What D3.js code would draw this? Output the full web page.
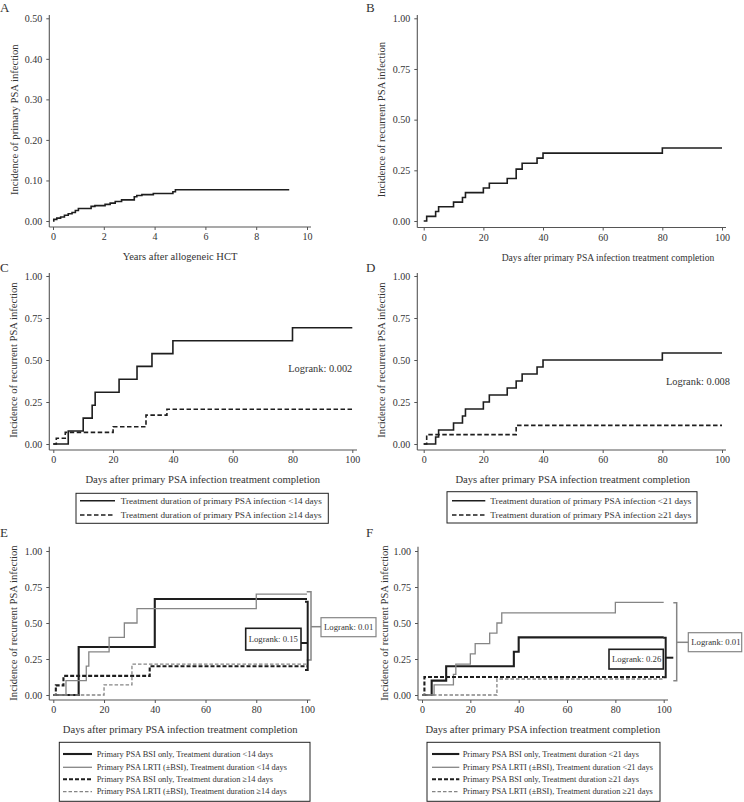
<!DOCTYPE html>
<meta charset="utf-8">
<script src="https://d3js.org/d3.v7.min.js"></script>
<style>
  body { margin: 0; background: #fff; }
  svg text { font-family: "Liberation Serif", "DejaVu Serif", serif; fill: #333; }
</style>
<div id="chart"></div>
<script>

// ---- data ----
// A: primary infection over years
var aYears = [0, 0.03, 0.15, 0.3, 0.45, 0.6, 0.75, 0.88, 1.0, 1.5, 1.65, 2.05, 2.25, 2.45, 2.7, 3.2, 3.3, 3.5, 3.95, 4.72, 4.82, 9.3];
var aInc   = [0, 0.004, 0.007, 0.010, 0.014, 0.018, 0.021, 0.026, 0.031, 0.036, 0.038, 0.041, 0.044, 0.048, 0.052, 0.060, 0.063, 0.065, 0.068, 0.072, 0.077, 0.077];

// B: recurrent, all patients
var bDays = [0, 1, 4, 5, 10, 13, 14, 20, 22, 28, 31, 33, 38, 40, 80, 100];
var bInc  = [0, 0.023, 0.047, 0.070, 0.093, 0.116, 0.140, 0.163, 0.186, 0.210, 0.256, 0.285, 0.310, 0.335, 0.360, 0.360];

// C: by treatment duration, cut at 14 days
var cLt14Days = [0, 5, 10, 13, 14, 22, 28, 33, 40, 80, 100];
var cLt14Inc  = [0, 0.077, 0.154, 0.231, 0.308, 0.385, 0.462, 0.538, 0.615, 0.692, 0.692];
var cGe14Days = [0, 1, 4, 20, 31, 38, 100];
var cGe14Inc  = [0, 0.034, 0.069, 0.103, 0.172, 0.207, 0.207];

// D: by treatment duration, cut at 21 days
var dLt21Days = [0, 4, 5, 10, 13, 14, 20, 22, 28, 31, 33, 38, 40, 80, 100];
var dLt21Inc  = [0, 0.042, 0.083, 0.125, 0.167, 0.208, 0.250, 0.292, 0.333, 0.375, 0.417, 0.458, 0.500, 0.542, 0.542];
var dGe21Days = [0, 1, 31, 100];
var dGe21Inc  = [0, 0.056, 0.111, 0.111];

// E: infection site x duration (14 days)
var eBsiLtDays  = [0, 10, 40, 100];
var eBsiLtInc   = [0, 0.333, 0.667, 0.667];
var eLrtiLtDays = [0, 5, 13, 14, 22, 28, 33, 80, 100];
var eLrtiLtInc  = [0, 0.1, 0.2, 0.3, 0.4, 0.5, 0.6, 0.7, 0.7];
var eBsiGeDays  = [0, 1, 4, 38, 100];
var eBsiGeInc   = [0, 0.067, 0.133, 0.2, 0.2];
var eLrtiGeDays = [0, 20, 31, 100];
var eLrtiGeInc  = [0, 0.071, 0.214, 0.214];

// F: infection site x duration (21 days)
var fBsiLtDays  = [0, 4, 10, 38, 40, 100];
var fBsiLtInc   = [0, 0.1, 0.2, 0.3, 0.4, 0.4];
var fLrtiLtDays = [0, 5, 13, 14, 20, 22, 28, 31, 33, 80, 100];
var fLrtiLtInc  = [0, 0.071, 0.143, 0.214, 0.286, 0.357, 0.429, 0.5, 0.571, 0.643, 0.643];
var fBsiGeDays  = [0, 1, 100];
var fBsiGeInc   = [0, 0.125, 0.125];
var fLrtiGeDays = [0, 31, 100];
var fLrtiGeInc  = [0, 0.111, 0.111];

var yearTicks = [0, 2, 4, 6, 8, 10];
var dayTicks = [0, 20, 40, 60, 80, 100];
var aIncTicks = [0, 0.1, 0.2, 0.3, 0.4, 0.5];
var incTicks = [0, 0.25, 0.5, 0.75, 1];

var legendC = ["Treatment duration of primary PSA infection <14 days",
               "Treatment duration of primary PSA infection \u226514 days"];
var legendD = ["Treatment duration of primary PSA infection <21 days",
               "Treatment duration of primary PSA infection \u226521 days"];
var legendE = ["Primary PSA BSI only, Treatment duration <14 days",
               "Primary PSA LRTI (\u00b1BSI), Treatment duration <14 days",
               "Primary PSA BSI only, Treatment duration \u226514 days",
               "Primary PSA LRTI (\u00b1BSI), Treatment duration \u226514 days"];
var legendF = ["Primary PSA BSI only, Treatment duration <21 days",
               "Primary PSA LRTI (\u00b1BSI), Treatment duration <21 days",
               "Primary PSA BSI only, Treatment duration \u226521 days",
               "Primary PSA LRTI (\u00b1BSI), Treatment duration \u226521 days"];

var DAYS_TITLE = "Days after primary PSA infection treatment completion";
var REC_TITLE = "Incidence of recurrent PSA infection";

// ---- styles for the line kinds ----
var BLACK = "#1e1e1e", GRAY = "#858585", AXIS = "#555";
var styles = {
  solid:     {stroke: BLACK, width: 1.6, dash: null},
  dashed:    {stroke: BLACK, width: 1.6, dash: "4.5,2.5"},
  thickSolid:{stroke: BLACK, width: 2.1, dash: null},
  thinGray:  {stroke: GRAY,  width: 1.3, dash: null},
  thickDash: {stroke: BLACK, width: 2.1, dash: "4,2"},
  grayDash:  {stroke: GRAY,  width: 1.3, dash: "3.5,2"}
};

var svg = d3.select("#chart").append("svg")
    .attr("width", 744)
    .attr("height", 802);

function zip(a, b) { return a.map(function(v, i) { return [v, b[i]]; }); }

function drawPanel(p) {
  var g = svg.append("g");
  var x = d3.scaleLinear().domain(p.xDomain).range(p.xRange);
  var y = d3.scaleLinear().domain(p.yDomain).range(p.yRange);

  // axis lines (they run a bit past the ticks, stata style)
  g.append("line")
    .attr("x1", p.axisX).attr("x2", p.axisX)
    .attr("y1", p.axisTop).attr("y2", p.axisY)
    .attr("stroke", AXIS).attr("stroke-width", 1.1);
  g.append("line")
    .attr("x1", p.axisX).attr("x2", p.axisRight)
    .attr("y1", p.axisY).attr("y2", p.axisY)
    .attr("stroke", AXIS).attr("stroke-width", 1.1);

  var ya = g.append("g")
    .attr("transform", "translate(" + p.axisX + ",0)")
    .call(d3.axisLeft(y).tickValues(p.yTicks).tickFormat(d3.format(".2f")).tickSize(3).tickPadding(4));
  ya.select(".domain").remove();
  var xa = g.append("g")
    .attr("transform", "translate(0," + p.axisY + ")")
    .call(d3.axisBottom(x).tickValues(p.xTicks).tickFormat(d3.format("d")).tickSize(3).tickPadding(3));
  xa.select(".domain").remove();
  g.selectAll(".tick line").attr("stroke", AXIS);
  g.selectAll(".tick text").attr("font-size", "10px");

  // titles
  g.append("text")
    .attr("x", p.xTitleX).attr("y", p.axisY + 33)
    .attr("text-anchor", "middle")
    .attr("font-size", p.xTitleSize + "px")
    .text(p.xTitle);
  g.append("text")
    .attr("transform", "translate(" + p.yTitleX + "," + ((p.yRange[0] + p.yRange[1]) / 2) + ") rotate(-90)")
    .attr("text-anchor", "middle")
    .attr("dy", "0.35em")
    .attr("font-size", "10.6px")
    .text(p.yTitle);
  g.append("text")
    .attr("x", p.labelX).attr("y", p.labelY)
    .attr("font-size", "13px")
    .text(p.label);

  var line = d3.line()
    .x(function(d) { return x(d[0]); })
    .y(function(d) { return y(d[1]); })
    .curve(d3.curveStepAfter);

  p.series.forEach(function(s) {
    var st = styles[s.style];
    g.append("path")
      .datum(zip(s.t, s.v))
      .attr("d", line)
      .attr("fill", "none")
      .attr("stroke", st.stroke)
      .attr("stroke-width", st.width)
      .attr("stroke-dasharray", st.dash);
  });

  if (p.legend) {
    var L = p.legend;
    g.append("rect")
      .attr("x", L.x0).attr("y", L.y0)
      .attr("width", L.x1 - L.x0).attr("height", L.y1 - L.y0)
      .attr("fill", "none").attr("stroke", "#222").attr("stroke-width", 1);
    L.labels.forEach(function(txt, i) {
      var st = styles[p.series[i].style];
      var yy = L.rows[i];
      g.append("line")
        .attr("x1", L.sx0).attr("x2", L.sx1)
        .attr("y1", yy).attr("y2", yy)
        .attr("stroke", st.stroke).attr("stroke-width", st.width)
        .attr("stroke-dasharray", st.dash);
      g.append("text")
        .attr("x", L.tx).attr("y", yy).attr("dy", "0.33em")
        .attr("font-size", L.size + "px")
        .text(txt);
    });
  }
  return g;
}

// A
drawPanel({
  label: "A", labelX: 0, labelY: 12,
  xDomain: [0, 10], xRange: [53, 307], yDomain: [0, 0.5], yRange: [221, 18.3],
  axisX: 49.3, axisTop: 15, axisY: 227, axisRight: 311,
  xTicks: yearTicks, yTicks: aIncTicks,
  xTitle: "Years after allogeneic HCT", xTitleX: 180, xTitleSize: 10.5,
  yTitle: "Incidence of primary PSA infection", yTitleX: 14,
  series: [{t: aYears, v: aInc, style: "solid"}]
});

// B
drawPanel({
  label: "B", labelX: 366, labelY: 12,
  xDomain: [0, 100], xRange: [423.7, 722], yDomain: [0, 1], yRange: [221, 18.3],
  axisX: 417.3, axisTop: 15, axisY: 227.5, axisRight: 726,
  xTicks: dayTicks, yTicks: incTicks,
  xTitle: DAYS_TITLE, xTitleX: 608, xTitleSize: 9.6,
  yTitle: REC_TITLE, yTitleX: 381,
  series: [{t: bDays, v: bInc, style: "solid"}]
});

// C
var gC = drawPanel({
  label: "C", labelX: 0, labelY: 272,
  xDomain: [0, 100], xRange: [53.3, 352.3], yDomain: [0, 1], yRange: [444, 276],
  axisX: 49.3, axisTop: 273, axisY: 450, axisRight: 357,
  xTicks: dayTicks, yTicks: incTicks,
  xTitle: DAYS_TITLE, xTitleX: 202.8, xTitleSize: 10.6,
  yTitle: REC_TITLE, yTitleX: 13,
  series: [{t: cLt14Days, v: cLt14Inc, style: "solid"},
           {t: cGe14Days, v: cGe14Inc, style: "dashed"}],
  legend: {x0: 76, x1: 328.3, y0: 493.3, y1: 523.3, rows: [500.7, 515],
           sx0: 80, sx1: 115, tx: 120.7, size: 9.2, labels: legendC}
});
gC.append("text").attr("x", 352.3).attr("y", 368).attr("dy", "0.35em")
  .attr("text-anchor", "end").attr("font-size", "10.4px").text("Logrank: 0.002");

// D
var gD = drawPanel({
  label: "D", labelX: 366, labelY: 272,
  xDomain: [0, 100], xRange: [423.7, 722], yDomain: [0, 1], yRange: [444, 276],
  axisX: 417.3, axisTop: 273, axisY: 450, axisRight: 726,
  xTicks: dayTicks, yTicks: incTicks,
  xTitle: DAYS_TITLE, xTitleX: 572.8, xTitleSize: 10.6,
  yTitle: REC_TITLE, yTitleX: 381,
  series: [{t: dLt21Days, v: dLt21Inc, style: "solid"},
           {t: dGe21Days, v: dGe21Inc, style: "dashed"}],
  legend: {x0: 447, x1: 697, y0: 491.7, y1: 523, rows: [500.7, 515],
           sx0: 452, sx1: 485.3, tx: 490.3, size: 9.2, labels: legendD}
});
gD.append("text").attr("x", 730).attr("y", 381.7).attr("dy", "0.35em")
  .attr("text-anchor", "end").attr("font-size", "10.4px").text("Logrank: 0.008");

// E
var gE = drawPanel({
  label: "E", labelX: 0, labelY: 537,
  xDomain: [0, 100], xRange: [53.3, 307], yDomain: [0, 1], yRange: [695, 551],
  axisX: 49.3, axisTop: 546.7, axisY: 700, axisRight: 310.5,
  xTicks: dayTicks, yTicks: incTicks,
  xTitle: DAYS_TITLE, xTitleX: 180.2, xTitleSize: 10.6,
  yTitle: REC_TITLE, yTitleX: 13.3,
  series: [{t: eBsiLtDays, v: eBsiLtInc, style: "thickSolid"},
           {t: eLrtiLtDays, v: eLrtiLtInc, style: "thinGray"},
           {t: eBsiGeDays, v: eBsiGeInc, style: "thickDash"},
           {t: eLrtiGeDays, v: eLrtiGeInc, style: "grayDash"}],
  legend: {x0: 59.3, x1: 310, y0: 742.3, y1: 801.3, rows: [754, 767.3, 779.3, 791.7],
           sx0: 63, sx1: 92, tx: 96.7, size: 8.4, labels: legendE}
});

// F
var gF = drawPanel({
  label: "F", labelX: 366, labelY: 537,
  xDomain: [0, 100], xRange: [422, 663.7], yDomain: [0, 1], yRange: [695, 551],
  axisX: 418, axisTop: 546.7, axisY: 700, axisRight: 668,
  xTicks: dayTicks, yTicks: incTicks,
  xTitle: DAYS_TITLE, xTitleX: 542.85, xTitleSize: 10.6,
  yTitle: REC_TITLE, yTitleX: 384.5,
  series: [{t: fBsiLtDays, v: fBsiLtInc, style: "thickSolid"},
           {t: fLrtiLtDays, v: fLrtiLtInc, style: "thinGray"},
           {t: fBsiGeDays, v: fBsiGeInc, style: "thickDash"},
           {t: fLrtiGeDays, v: fLrtiGeInc, style: "grayDash"}],
  legend: {x0: 427, x1: 660, y0: 742.3, y1: 801.3, rows: [754, 767.3, 779.3, 791.7],
           sx0: 432, sx1: 459.3, tx: 462.7, size: 8.4, labels: legendF}
});

// logrank brackets and boxes for E and F
function bracket(g, x, yTop, yBot, tick, color, w) {
  g.append("path")
    .attr("d", "M" + (x - tick) + "," + yTop + "H" + x + "V" + yBot + "H" + (x - tick))
    .attr("fill", "none").attr("stroke", color).attr("stroke-width", w);
}
function nub(g, x1, x2, yy, color, w) {
  g.append("line").attr("x1", x1).attr("x2", x2).attr("y1", yy).attr("y2", yy)
    .attr("stroke", color).attr("stroke-width", w);
}
function box(g, x0, y0, x1, y1, color, w, txt) {
  g.append("rect").attr("x", x0).attr("y", y0).attr("width", x1 - x0).attr("height", y1 - y0)
    .attr("fill", "#fff").attr("stroke", color).attr("stroke-width", w);
  g.append("text").attr("x", x0 + 3).attr("y", (y0 + y1) / 2).attr("dy", "0.35em")
    .attr("font-size", "8.7px").text(txt);
}

// E
bracket(gE, 311, 591.7, 660, 4.3, GRAY, 1.5);
nub(gE, 311, 321, 626.7, GRAY, 1.5);
box(gE, 321, 617.7, 376, 636.7, GRAY, 1.2, "Logrank: 0.01");
bracket(gE, 307.7, 601.7, 670, 2.7, BLACK, 2);
nub(gE, 301, 307.7, 643, BLACK, 2);
box(gE, 245.7, 628.3, 301, 650, BLACK, 1.6, "Logrank: 0.15");

// F
bracket(gF, 676.7, 602.7, 680.7, 3.4, GRAY, 1.5);
nub(gF, 676.7, 688.3, 642.3, GRAY, 1.5);
box(gF, 688.3, 632.7, 741.7, 651.7, GRAY, 1.2, "Logrank: 0.01");
bracket(gF, 665.7, 637.7, 677.3, 2.4, BLACK, 2);
nub(gF, 665.7, 673.3, 657.7, BLACK, 2);
box(gF, 609, 649.3, 663.3, 669, BLACK, 1.6, "Logrank: 0.26");

</script>
